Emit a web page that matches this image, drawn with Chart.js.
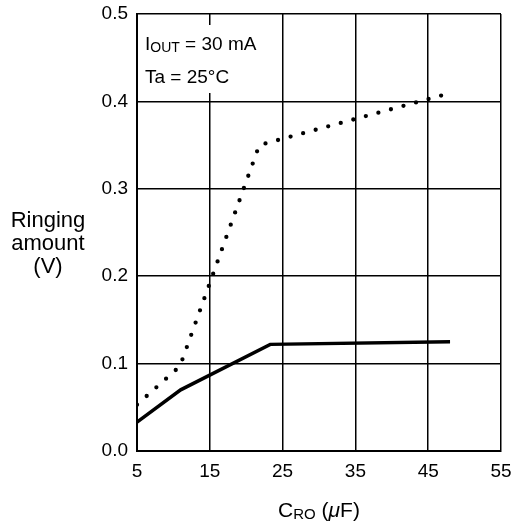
<!DOCTYPE html>
<html>
<head>
<meta charset="utf-8">
<script src="https://cdn.jsdelivr.net/npm/chart.js@4"></script>
<style>
  body { margin: 0; background: #fff; }
  canvas { display: block; }
</style>
</head>
<body>
<canvas id="ringChart" width="515" height="522"></canvas>
<script>
// axis ticks
const xTicks = [5, 15, 25, 35, 45, 55];
const yTicks = [0.0, 0.1, 0.2, 0.3, 0.4, 0.5];

// solid curve
const solidX = [5, 11, 23.3, 48];
const solidY = [0.033, 0.07, 0.122, 0.125];

// dotted curve
const dottedX = [5, 10.9, 21.8, 47.8];
const dottedY = [0.053, 0.097, 0.35, 0.409];

const FONT = "'Liberation Sans', Arial, sans-serif";

function toPoints(xs, ys) {
    return xs.map(function(x, i) { return { x: x, y: ys[i] }; });
}

// draws pieces of text one after another (for subscripts)
function drawRuns(ctx, runs, x, y) {
    let cx = x;
    runs.forEach(function(r) {
        ctx.font = r.font;
        ctx.fillText(r.text, cx, y + (r.dy || 0));
        cx += ctx.measureText(r.text).width;
    });
}

function runsWidth(ctx, runs) {
    let w = 0;
    runs.forEach(function(r) {
        ctx.font = r.font;
        w += ctx.measureText(r.text).width;
    });
    return w;
}

const textPlugin = {
    id: 'textPlugin',
    afterDraw(chart) {
        const ctx = chart.ctx;
        const area = chart.chartArea;
        ctx.save();
        ctx.fillStyle = '#fff';
        ctx.fillRect(area.left + 3, area.top + 11, 138, 68);

        ctx.fillStyle = '#000';
        ctx.textAlign = 'left';
        ctx.textBaseline = 'alphabetic';
        drawRuns(ctx, [
            { text: 'I', font: '19px ' + FONT },
            { text: 'OUT', font: '14px ' + FONT, dy: 2 },
            { text: ' = 30 mA', font: '19px ' + FONT }
        ], area.left + 8, 50);
        drawRuns(ctx, [{ text: 'Ta = 25°C', font: '19px ' + FONT }], area.left + 8, 83);

        // y title, horizontal, three lines
        ctx.textAlign = 'center';
        ctx.font = '22px ' + FONT;
        ctx.fillText('Ringing', 48, 227);
        ctx.fillText('amount', 48, 250);
        ctx.fillText('(V)', 48, 273);

        // x title with subscript
        ctx.textAlign = 'left';
        const xRuns = [
            { text: 'C', font: '21px ' + FONT },
            { text: 'RO', font: '15px ' + FONT, dy: 2 },
            { text: ' (', font: '21px ' + FONT },
            { text: 'μ', font: 'italic 21px ' + FONT },
            { text: 'F)', font: '21px ' + FONT }
        ];
        const w = runsWidth(ctx, xRuns);
        drawRuns(ctx, xRuns, (area.left + area.right) / 2 - w / 2, 517);
        ctx.restore();
    }
};

const ctx = document.getElementById('ringChart').getContext('2d');
Chart.defaults.color = '#000';

new Chart(ctx, {
    type: 'line',
    data: {
        datasets: [{
            data: toPoints(solidX, solidY),
            borderColor: '#000',
            borderWidth: 3.5,
            pointRadius: 0,
            tension: 0,
            fill: false
        }, {
            data: toPoints(dottedX, dottedY),
            borderColor: '#000',
            borderWidth: 4.3,
            borderDash: [0, 13],
            borderCapStyle: 'round',
            pointRadius: 0,
            tension: 0,
            fill: false
        }]
    },
    options: {
        responsive: false,
        animation: false,
        layout: { padding: { left: 0, right: 14, top: 14, bottom: 0 } },
        plugins: { legend: { display: false }, tooltip: { enabled: false } },
        scales: {
            x: {
                type: 'linear',
                min: xTicks[0],
                max: xTicks[xTicks.length - 1],
                afterBuildTicks: function(scale) {
                    scale.ticks = xTicks.map(function(v) { return { value: v }; });
                },
                afterFit: function(scale) {
                    scale.height = 71;
                    scale.paddingLeft = 0;
                    scale.paddingRight = 0;
                },
                grid: { color: '#000', lineWidth: 1.5, drawTicks: false },
                border: { color: '#000', width: 2 },
                ticks: {
                    padding: 9,
                    maxRotation: 0,
                    font: { family: FONT, size: 19 }
                }
            },
            y: {
                type: 'linear',
                min: yTicks[0],
                max: yTicks[yTicks.length - 1],
                afterBuildTicks: function(scale) {
                    scale.ticks = yTicks.map(function(v) { return { value: v }; });
                },
                afterFit: function(scale) {
                    scale.width = 137;
                    scale.paddingTop = 0;
                    scale.paddingBottom = 0;
                },
                grid: { color: '#000', lineWidth: 1.5, drawTicks: false },
                border: { color: '#000', width: 2 },
                ticks: {
                    padding: 9,
                    font: { family: FONT, size: 19 },
                    callback: function(v) { return Number(v).toFixed(1); }
                }
            }
        }
    },
    plugins: [textPlugin]
});
</script>
</body>
</html>
